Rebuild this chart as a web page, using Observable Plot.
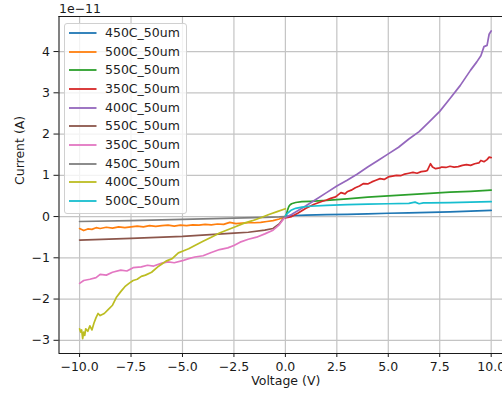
<!DOCTYPE html>
<html><head><meta charset="utf-8">
<script src="https://cdn.jsdelivr.net/npm/d3@7"></script>
<script src="https://cdn.jsdelivr.net/npm/@observablehq/plot@0.6"></script>
<style>
html,body{margin:0;padding:0;background:#fff;overflow:hidden;}
#wrap{position:relative;width:502px;height:395px;font-family:"DejaVu Sans",sans-serif;}
#legend{position:absolute;left:63.5px;top:22.5px;width:121px;height:189px;border:1px solid #d0d0d0;border-radius:3px;background:rgba(255,255,255,0.8);}
.item{position:absolute;left:0;height:18px;width:121px;font-size:12.5px;line-height:18px;color:#222;white-space:nowrap;}
.item svg{position:absolute;left:4.5px;top:0;}
.item span{position:absolute;left:40.5px;top:0;}
</style></head><body><div id="wrap"><div id="chart"></div><div id="legend"></div></div>
<script>
const seriesNames = ["450C_50um","500C_50um","550C_50um","350C_50um","400C_50um","550C_50um","350C_50um","450C_50um","400C_50um","500C_50um"];
const seriesColors = ["#1f77b4","#ff7f0e","#2ca02c","#d62728","#9467bd","#8c564b","#e377c2","#7f7f7f","#bcbd22","#17becf"];
const xTicks = [-10, -7.5, -5, -2.5, 0, 2.5, 5, 7.5, 10];
const yTicks = [-3, -2, -1, 0, 1, 2, 3, 4];

// 450C_50um (blue)
const v450p = [0, 0.2, 0.5, 1, 2, 3, 4, 5, 6, 7, 8, 9, 10];
const i450p = [0, 0.015, 0.025, 0.035, 0.045, 0.055, 0.065, 0.08, 0.09, 0.1, 0.115, 0.13, 0.15];
// 500C_50um (orange)
const v500n = [-10, -9.8, -9.6, -9.4, -9.2, -9, -8.7, -8.4, -8.1, -7.8, -7.5, -7.2, -6.9, -6.6, -6.3, -6, -5.7, -5.4, -5.1, -4.8, -4.5, -4.2, -3.9, -3.6, -3.3, -3, -2.7, -2.4, -2.1, -1.8, -1.5, -1.2, -0.9, -0.6, -0.3, 0];
const i500n = [-0.29, -0.34, -0.3, -0.31, -0.27, -0.29, -0.26, -0.28, -0.25, -0.27, -0.25, -0.23, -0.25, -0.22, -0.24, -0.22, -0.21, -0.23, -0.21, -0.22, -0.2, -0.21, -0.19, -0.2, -0.18, -0.19, -0.14, -0.17, -0.16, -0.15, -0.15, -0.14, -0.12, -0.1, -0.06, 0];
// 550C_50um (green)
const v550p = [0, 0.05, 0.1, 0.15, 0.2, 0.3, 0.5, 0.8, 1.2, 2, 3, 4, 5, 6, 7, 8, 9, 10];
const i550p = [0, 0.05, 0.15, 0.22, 0.27, 0.31, 0.34, 0.36, 0.37, 0.39, 0.43, 0.47, 0.5, 0.53, 0.56, 0.59, 0.61, 0.64];
// 350C_50um (red)
const v350p = [0, 0.3, 0.6, 1.0, 1.4, 1.8, 2.0, 2.2, 2.4, 2.5, 2.7, 2.9, 3.0, 3.2, 3.4, 3.6, 3.8, 4.0, 4.2, 4.4, 4.6, 4.8, 5.0, 5.2, 5.4, 5.6, 5.8, 6.0, 6.2, 6.4, 6.6, 6.8, 6.9, 7.05, 7.15, 7.3, 7.5, 7.6, 7.8, 8.0, 8.2, 8.4, 8.6, 8.8, 9.0, 9.2, 9.4, 9.5, 9.65, 9.8, 9.9, 10];
const i350p = [-0.03, 0.0, 0.08, 0.2, 0.3, 0.37, 0.4, 0.44, 0.47, 0.5, 0.58, 0.55, 0.6, 0.64, 0.7, 0.74, 0.8, 0.79, 0.84, 0.88, 0.92, 0.9, 0.96, 0.98, 1.0, 0.99, 1.03, 1.05, 1.07, 1.05, 1.09, 1.1, 1.12, 1.28, 1.2, 1.16, 1.18, 1.2, 1.19, 1.22, 1.2, 1.21, 1.24, 1.26, 1.24, 1.28, 1.3, 1.36, 1.33, 1.38, 1.44, 1.43];
// 400C_50um (purple)
const v400p = [0, 0.3, 0.6, 1, 1.5, 2, 2.5, 3, 3.5, 4, 4.5, 5, 5.5, 6, 6.5, 7, 7.5, 8, 8.5, 9, 9.3, 9.5, 9.65, 9.8, 9.9, 10];
const i400p = [-0.02, 0.05, 0.14, 0.26, 0.42, 0.58, 0.74, 0.88, 1.03, 1.2, 1.36, 1.52, 1.68, 1.88, 2.06, 2.3, 2.55, 2.86, 3.18, 3.55, 3.75, 3.9, 4.12, 4.15, 4.42, 4.5];
// 550C_50um (brown)
const v550n = [-10, -7.5, -5, -2.5, -1.8, -1, -0.6, -0.3, -0.15, 0];
const i550n = [-0.57, -0.53, -0.48, -0.4, -0.38, -0.33, -0.29, -0.18, -0.08, 0];
// 350C_50um (pink)
const v350n = [-10, -9.8, -9.5, -9.2, -9, -8.7, -8.4, -8, -7.7, -7.4, -7, -6.7, -6.4, -6, -5.7, -5.4, -5, -4.7, -4.4, -4, -3.6, -3.2, -2.8, -2.5, -2.2, -1.8, -1.4, -1, -0.6, -0.3, 0];
const i350n = [-1.62, -1.55, -1.52, -1.48, -1.4, -1.42, -1.35, -1.3, -1.32, -1.24, -1.22, -1.18, -1.2, -1.13, -1.1, -1.12, -1.07, -1.02, -0.98, -0.95, -0.87, -0.8, -0.76, -0.7, -0.62, -0.55, -0.5, -0.42, -0.33, -0.2, 0];
// 450C_50um (gray)
const v450n = [-10, -7.5, -5, -2.5, -1, -0.3, 0];
const i450n = [-0.12, -0.1, -0.07, -0.04, -0.02, -0.01, 0];
// 400C_50um (olive)
const v400n = [-10, -9.95, -9.9, -9.85, -9.8, -9.75, -9.7, -9.6, -9.5, -9.4, -9.3, -9.2, -9.1, -9, -8.8, -8.6, -8.4, -8.2, -8, -7.8, -7.6, -7.4, -7.2, -7, -6.8, -6.5, -6.2, -6, -5.8, -5.5, -5.2, -5, -4.7, -4.4, -4, -3.6, -3.2, -2.8, -2.4, -2, -1.6, -1.2, -0.8, -0.4, 0];
const i400n = [-2.72, -2.8, -2.75, -2.96, -2.8, -2.88, -2.72, -2.78, -2.65, -2.75, -2.58, -2.45, -2.35, -2.4, -2.35, -2.25, -2.15, -1.95, -1.82, -1.7, -1.62, -1.55, -1.52, -1.45, -1.42, -1.35, -1.22, -1.15, -1.08, -1.02, -0.88, -0.84, -0.78, -0.7, -0.6, -0.5, -0.4, -0.32, -0.24, -0.16, -0.1, -0.03, 0.05, 0.12, 0.19];
// 500C_50um (cyan)
const v500p = [0, 0.1, 0.3, 0.5, 0.8, 1.2, 2, 3, 4, 5, 6, 6.3, 6.5, 6.7, 7, 8, 9, 10];
const i500p = [0.02, 0.08, 0.16, 0.2, 0.23, 0.25, 0.27, 0.29, 0.3, 0.31, 0.32, 0.35, 0.31, 0.33, 0.33, 0.34, 0.35, 0.36];

const seriesV = [v450p, v500n, v550p, v350p, v400p, v550n, v350n, v450n, v400n, v500p];
const seriesI = [i450p, i500n, i550p, i350p, i400p, i550n, i350n, i450n, i400n, i500p];
const rows = seriesV.flatMap((vs, k) => vs.map((v, j) => ({k, v, i: seriesI[k][j], c: seriesColors[k]})));

const xDomain = [-11, 10.55];
const yDomain = [-3.32, 4.85];
const minus = s => s.replace("-", "\u2212");
const ink = "#1a1a1a";

const chart = Plot.plot({
  width: 502, height: 395,
  marginLeft: 58.5, marginRight: 0, marginTop: 16, marginBottom: 42,
  style: {fontFamily: "DejaVu Sans, sans-serif", fontSize: "12.5px", background: "white", color: ink},
  x: {domain: xDomain, label: null},
  y: {domain: yDomain, label: null},
  color: {type: "identity"},
  marks: [
    Plot.gridX(xTicks, {stroke: "#c4c4c4", strokeOpacity: 1, strokeWidth: 1.2}),
    Plot.gridY(yTicks, {stroke: "#c4c4c4", strokeOpacity: 1, strokeWidth: 1.2}),
    Plot.line(rows, {x: "v", y: "i", z: "k", stroke: "c", strokeWidth: 1.7, strokeLinejoin: "round"}),
    Plot.ruleX([xDomain[0]], {stroke: ink, strokeWidth: 1.1}),
    Plot.ruleY(yDomain, {stroke: ink, strokeWidth: 1.1}),
    Plot.axisX(xTicks, {tickSize: 4, tickPadding: 5, tickFormat: d => minus(d.toFixed(1)), label: null, stroke: ink, fill: ink}),
    Plot.axisY(yTicks, {tickSize: 5, tickPadding: 4, tickFormat: d => minus(String(d)), label: null, stroke: ink, fill: ink}),
    Plot.text(["Current (A)"], {frameAnchor: "left", dx: -39.5, rotate: -90, fill: ink}),
    Plot.text(["Voltage (V)"], {frameAnchor: "bottom", dx: 5, dy: 31.5, fill: ink}),
    Plot.text(["1e\u221211"], {frameAnchor: "top-left", dy: -3.7, textAnchor: "start", lineAnchor: "bottom", fill: ink})
  ]
});
document.getElementById("chart").appendChild(chart);

const legend = document.getElementById("legend");
seriesNames.forEach((name, k) => {
  const item = document.createElement("div");
  item.className = "item";
  item.style.top = (9.5 + 18.67 * k - 9) + "px";
  item.innerHTML = `<svg width="28" height="18"><line x1="0" x2="27.5" y1="9" y2="9" stroke="${seriesColors[k]}" stroke-width="1.8"/></svg><span>${name}</span>`;
  legend.appendChild(item);
});
</script>
</body></html>
